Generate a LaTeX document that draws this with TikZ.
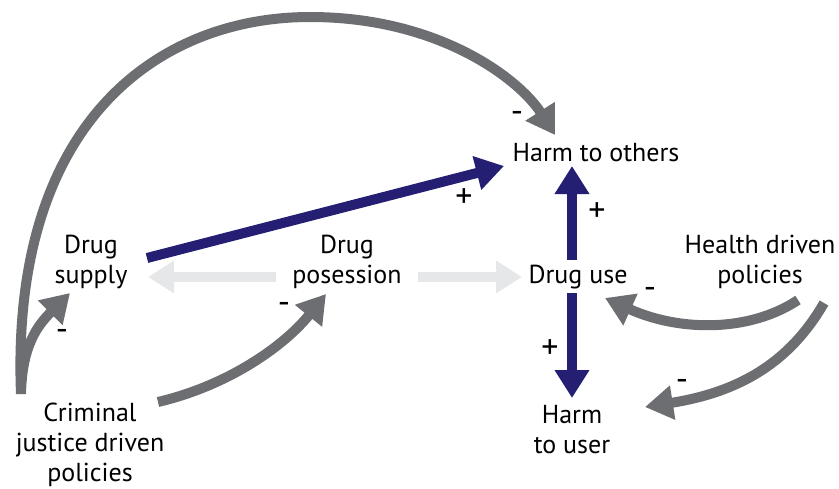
\documentclass[tikz,border=0pt]{standalone}
\usepackage{fontspec}
\setmainfont{PT Sans}
\usetikzlibrary{arrows.meta}
\definecolor{navy}{HTML}{241F73}
\definecolor{greyarrow}{HTML}{6D6E71}
\definecolor{flowgrey}{HTML}{E6E7E8}
\tikzset{
  lbl/.style={align=center, inner sep=0pt, font=\fontsize{26}{30}\selectfont},
  sign/.style={inner sep=0pt, font=\fontsize{34}{34}\selectfont},
  posarrow/.style={draw=navy, line width=10pt, -{Triangle[length=28pt,width=33pt]}},
  negarrow/.style={draw=greyarrow, line width=10pt, -{Triangle[length=28pt,width=33pt]}},
  flowarrow/.style={draw=flowgrey, line width=10pt, -{Triangle[length=26pt,width=31pt]}},
}
\begin{document}
\begin{tikzpicture}[x=1pt,y=-1pt]
\useasboundingbox (0,0) rectangle (839,488);

% factors
\node[lbl] (others) at (596,153) {Harm to others};
\node[lbl] (supply) at (91,262) {Drug\\supply};
\node[lbl] (poss) at (347,262) {Drug\\posession};
\node[lbl] (use) at (578,277) {Drug use};
\node[lbl] (health) at (760,262) {Health driven\\policies};
\node[lbl] (user) at (572,430) {Harm\\to user};
\node[lbl] (crim) at (90,445) {Criminal\\justice driven\\policies};

% connector end points
\coordinate (crim-out) at (21,394);
\coordinate (crim-out2) at (158,402);
\coordinate (others-top) at (555,135);
\coordinate (others-left) at (504,166);
\coordinate (others-bottom) at (572,166);
\coordinate (supply-right) at (147,258);
\coordinate (supply-in) at (148,277);
\coordinate (supply-below) at (70,293);
\coordinate (poss-left) at (276,277);
\coordinate (poss-right) at (418,277);
\coordinate (poss-below) at (326,294);
\coordinate (use-left) at (522,277);
\coordinate (use-top) at (572,260);
\coordinate (use-bottom) at (572,293);
\coordinate (use-right) at (605,298);
\coordinate (user-top) at (572,398);
\coordinate (user-right) at (645,407);
\coordinate (health-out1) at (798,300);
\coordinate (health-out2) at (824,303);

% flows between factors
\draw[flowarrow] (poss-left) -- (supply-in);
\draw[flowarrow] (poss-right) -- (use-left);

% reinforcing links
\draw[posarrow] (supply-right) -- (others-left);
\draw[posarrow] (use-top) -- (others-bottom);
\draw[posarrow] (use-bottom) -- (user-top);

% policy links
\draw[negarrow] (crim-out) .. controls (10,120) and (160,17) .. (310,17)
  .. controls (440,17) and (520,80) .. (others-top);
\draw[negarrow] (crim-out) .. controls (22,345) and (38,325) .. (supply-below);
\draw[negarrow] (crim-out2) .. controls (230,385) and (285,345) .. (poss-below);
\draw[negarrow] (health-out1) .. controls (750,332) and (680,332) .. (use-right);
\draw[negarrow] (health-out2) .. controls (790,362) and (740,392) .. (user-right);

% signs
\node[sign] (s1) at (517,117) {-};
\node[sign] (s2) at (464,198) {+};
\node[sign] (s3) at (597,212) {+};
\node[sign] (s4) at (550,349) {+};
\node[sign] (s5) at (650,293) {-};
\node[sign] (s6) at (682,385) {-};
\node[sign] (s7) at (62,335) {-};
\node[sign] (s8) at (284,308) {-};
\end{tikzpicture}
\end{document}
